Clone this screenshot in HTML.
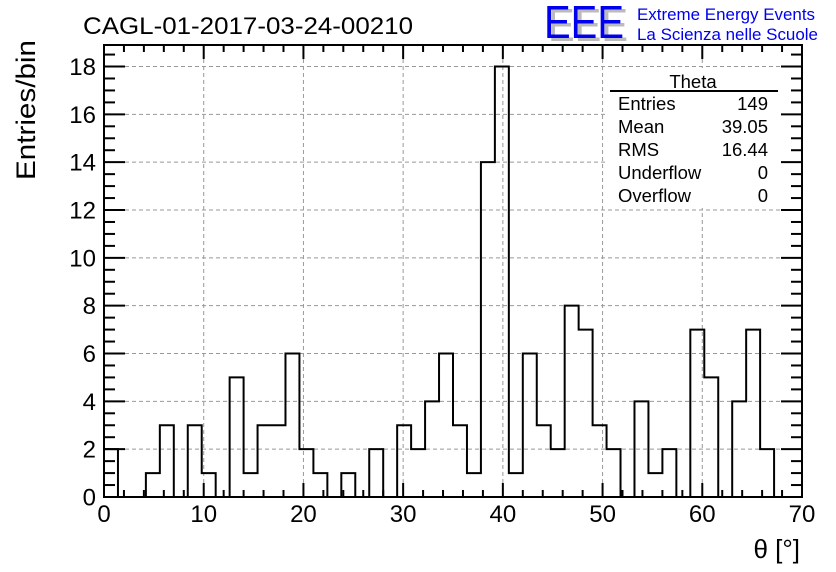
<!DOCTYPE html>
<html><head><meta charset="utf-8"><style>
html,body{margin:0;padding:0;background:#fff;}
svg{display:block;font-family:"Liberation Sans",sans-serif;}
</style></head><body>
<svg id="c" width="836" height="572" viewBox="0 0 836 572">
<text x="83" y="34" font-size="24" textLength="330" lengthAdjust="spacingAndGlyphs">CAGL-01-2017-03-24-00210</text>
<g>
<text x="548" y="41" font-size="46" fill="#bbb" textLength="80" lengthAdjust="spacingAndGlyphs">EEE</text>
<text x="544" y="38" font-size="46" fill="#0000ee" textLength="80" lengthAdjust="spacingAndGlyphs">EEE</text>
</g>
<text x="637" y="20" font-size="16.5" fill="#0000ee" textLength="178" lengthAdjust="spacingAndGlyphs">Extreme Energy Events</text>
<text x="637" y="40" font-size="16.5" fill="#0000ee" textLength="181" lengthAdjust="spacingAndGlyphs">La Scienza nelle Scuole</text>
<g id="grid"></g>
<g id="ticks"></g>
<path id="hist" fill="none" stroke="#000" stroke-width="2"></path>
<rect x="104" y="45" width="698" height="452" fill="none" stroke="#000" stroke-width="2"></rect>
<g id="labels" font-size="24"></g>
<text x="800" y="558" font-size="26" text-anchor="end">θ [°]</text>
<text transform="translate(35,110) rotate(-90)" font-size="27" text-anchor="middle" textLength="140" lengthAdjust="spacingAndGlyphs">Entries/bin</text>
<g font-size="18.5">
<rect x="608" y="68" width="172" height="140" fill="#fff"></rect>
<text x="693" y="88" text-anchor="middle">Theta</text>
<line x1="610" y1="91" x2="778" y2="91" stroke="#000" stroke-width="2"></line>
<text x="618" y="110">Entries</text><text x="768" y="110" text-anchor="end">149</text>
<text x="618" y="133">Mean</text><text x="768" y="133" text-anchor="end">39.05</text>
<text x="618" y="156">RMS</text><text x="768" y="156" text-anchor="end">16.44</text>
<text x="618" y="179">Underflow</text><text x="768" y="179" text-anchor="end">0</text>
<text x="618" y="202">Overflow</text><text x="768" y="202" text-anchor="end">0</text>
</g>
</svg>
<script>
const binCounts = [2,0,0,1,3,0,3,1,0,5,1,3,3,6,2,1,0,1,0,2,0,3,2,4,6,3,1,14,18,1,6,3,2,8,7,3,2,0,4,1,2,0,7,5,0,4,7,2,0,0];
const xTickLabels = [0,10,20,30,40,50,60,70];
const yTickLabels = [0,2,4,6,8,10,12,14,16,18];
const xMin = 0, xMax = 70, yMin = 0, yMax = 18.9;
const L=104,R=802,T=45,B=497;
const sx = v => L + (v - xMin) / (xMax - xMin) * (R - L);
const sy = v => B - (v - yMin) / (yMax - yMin) * (B - T);
const NS="http://www.w3.org/2000/svg";
function mk(tag, attrs, parent){const e=document.createElementNS(NS,tag);for(const k in attrs)e.setAttribute(k,attrs[k]);parent.appendChild(e);return e;}
const grid=document.getElementById('grid'), ticks=document.getElementById('ticks'), labels=document.getElementById('labels');
xTickLabels.forEach(v=>{
  const x=sx(v);
  if(v>xMin&&v<xMax){const g=mk('line',{x1:x,x2:x,y1:T,y2:B,stroke:'#999','stroke-dasharray':'4,3','stroke-width':1},grid);
  
  }
  const t=mk('text',{x:x,y:522,'text-anchor':'middle'},labels);t.textContent=v;
  
  
});
yTickLabels.forEach(v=>{
  const y=sy(v);
  if(v>yMin){const g=mk('line',{x1:L,x2:R,y1:y,y2:y,stroke:'#999','stroke-dasharray':'4,3','stroke-width':1},grid);
  
  }
  const t=mk('text',{x:96,y:y+8.5,'text-anchor':'end'},labels);t.textContent=v;
  
  
});
for(let v=0; v<=70; v+=2){
  const x=sx(v), len=(v%10===0)?14:7;
  mk('line',{x1:x,x2:x,y1:B,y2:B-len,stroke:'#000','stroke-width':2},ticks);
  mk('line',{x1:x,x2:x,y1:T,y2:T+len,stroke:'#000','stroke-width':2},ticks);
}
for(let v=0; v<=18.9; v+=0.5){
  const y=sy(v), len=(Math.abs(v%2)<1e-6)?21:11;
  mk('line',{x1:L,x2:L+len,y1:y,y2:y,stroke:'#000','stroke-width':2},ticks);
  mk('line',{x1:R,x2:R-len,y1:y,y2:y,stroke:'#000','stroke-width':2},ticks);
}
const w=(xMax-xMin)/binCounts.length;
let d='M'+sx(0)+','+sy(0);
binCounts.forEach((c,i)=>{ d+=' L'+sx(i*w)+','+sy(c)+' L'+sx((i+1)*w)+','+sy(c); });
d+=' L'+sx(xMax)+','+sy(0);
document.getElementById('hist').setAttribute('d',d);
</script>
</body></html>
